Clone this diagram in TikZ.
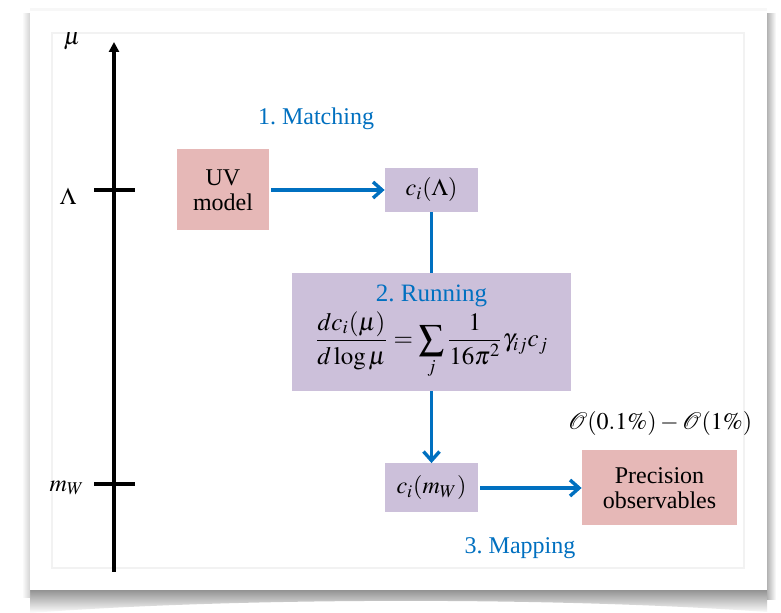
\documentclass[tikz,border=0pt]{standalone}
\usepackage{mathptmx}
\usepackage{fontspec}
\setmainfont{Liberation Serif}
\usetikzlibrary{arrows.meta}
\definecolor{boxpink}{RGB}{230,184,183}
\definecolor{boxlav}{RGB}{204,192,218}
\definecolor{flowblue}{RGB}{0,112,192}
\begin{document}
\begin{tikzpicture}[x=0.5pt,y=-0.5pt,
  txt/.style={font=\fontsize{12}{13.5}\selectfont},
  pinkbox/.style={txt,fill=boxpink,draw=none,align=center,inner sep=0pt},
  lavbox/.style={txt,fill=boxlav,draw=none,align=center,inner sep=0pt},
  flow/.style={draw=flowblue,line width=1.8pt,-{Straight Barb[length=4.5pt,width=8pt,line width=1.7pt]}},
  flowline/.style={draw=flowblue,line width=1.8pt},
  axis/.style={line width=1.6pt,black},
  steplabel/.style={txt,text=flowblue},
  scalelabel/.style={txt}]
% canvas
\useasboundingbox (0,0) rectangle (781,613);
\fill[white] (0,0) rectangle (781,613);
% shadows
\shade[top color=gray!85,bottom color=white] (30,590) -- (767,590) -- (767,612) .. controls (560,597) and (240,597) .. (30,613) -- cycle;
\shade[left color=gray!60,right color=white] (767,14) rectangle (776,600);
\shade[right color=gray!35,left color=white] (22,14) rectangle (30,598);
\fill[gray!6] (30,8) rectangle (767,11);
% card
\fill[white] (30,11) rectangle (767,590);
\draw[gray!10,line width=0.6pt] (52,33) rectangle (744,568);
% axis
\coordinate (axb) at (114,572);
\coordinate (axt) at (114,42);
\draw[axis,-{Triangle[length=5pt,width=5pt]}] (axb) -- (axt);
\coordinate (tL1) at (94,190); \coordinate (tL2) at (135,190);
\coordinate (tW1) at (94,484); \coordinate (tW2) at (135,484);
\draw[axis] (tL1) -- (tL2);
\draw[axis] (tW1) -- (tW2);
\node[scalelabel] (mu) at (72,41) {$\mu$};
\node[scalelabel] (lam) at (68,196) {$\Lambda$};
\node[scalelabel] (mw) at (67,488) {$m_W$};
% boxes
\node[pinkbox,minimum width=46pt,minimum height=40.5pt] (uv) at (223,190) {UV\\[-1pt]model};
\node[lavbox,minimum width=46.5pt,minimum height=22pt] (cl) at (431.5,190) {$c_i(\Lambda)$};
\node[lavbox,minimum width=139.5pt,minimum height=59pt,font=\fontsize{12.5}{14}\selectfont] (run) at (431.5,332)
  {\textcolor{flowblue}{2.\ Running}\\[1pt]
   $\displaystyle \frac{dc_i(\mu)}{d\log\mu}=\sum_j\frac{1}{16\pi^2}\gamma_{ij}c_j$};
\node[lavbox,minimum width=46.5pt,minimum height=24.5pt] (cw) at (431.5,488) {$c_i(m_W)$};
\node[pinkbox,minimum width=77.5pt,minimum height=37.5pt] (prec) at (659.5,488) {Precision\\[-1pt]observables};
% labels
\node[steplabel] (match) at (316,119) {1.\ Matching};
\node[steplabel] (map) at (520,548) {3.\ Mapping};
\node[txt] (ord) at (660,424) {$\mathcal{O}(0.1\%)-\mathcal{O}(1\%)$};
% connectors
\draw[flow] (uv.east) ++(2,0) -- (cl.west);
\draw[flowline] (cl.south) -- (run.north);
\draw[flow] (run.south) -- (cw.north);
\draw[flow] (cw.east) ++(2,0) -- (prec.west);
\end{tikzpicture}
\end{document}
